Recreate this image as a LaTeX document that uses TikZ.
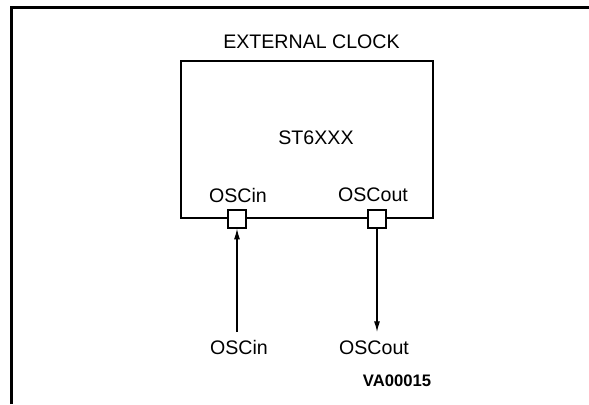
\documentclass[tikz,border=0pt]{standalone}
\usepackage{fontspec}
\setmainfont{Liberation Sans}
\usetikzlibrary{positioning}
\usetikzlibrary{arrows.meta}
\tikzset{
    label/.style={font=\fontsize{14.7}{16}\selectfont, inner sep=0pt},
    chip/.style={draw, line width=1.5pt, inner sep=0pt, minimum width=189pt, minimum height=117.75pt},
    pin/.style={draw, fill=white, line width=0.9pt, inner sep=0pt, minimum size=13.5pt},
    sig/.style={line width=0.9pt, -{Latex[length=8pt,width=4.5pt]}}
}
\begin{document}
\begin{tikzpicture}[x=0.75pt,y=-0.75pt]
	\useasboundingbox (0,0) rectangle (589,404);
	% frame
	\draw[line width=2.25pt] (11.5,404) -- (11.5,7.5) -- (589,7.5);
	% device
	\node[label] (title) at (311.5,42) {EXTERNAL CLOCK};
	\node[chip] (dev) at (307,139.5) {};
	\node[label] (name) at (316,138) {ST6XXX};
	\node[label] (inTag) at (238,195) {OSCin};
	\node[label] (outTag) at (373,195) {OSCout};
	\node[pin] (inPin) at (237,219) {};
	\node[pin] (outPin) at (377,219) {};
	% signals
	\coordinate (inEnd) at (237,332);
	\coordinate (outEnd) at (377,332);
	\draw[sig] (inEnd) -- (inPin.south);
	\draw[sig] (outPin.south) -- (outEnd);
	\node[label] (inLbl) at (239,347.5) {OSCin};
	\node[label] (outLbl) at (374,347.5) {OSCout};
	\node[label, font=\fontsize{12.5}{14}\selectfont\bfseries] (ref) at (397,381) {VA00015};
\end{tikzpicture}
\end{document}
